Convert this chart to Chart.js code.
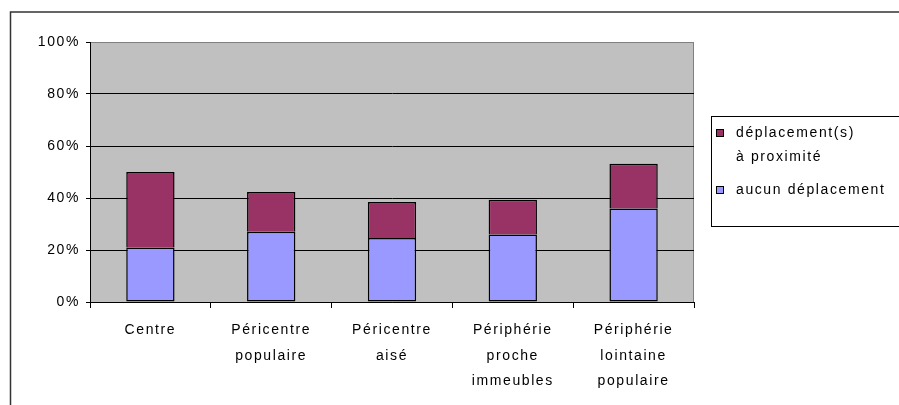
<!DOCTYPE html>
<html>
<head>
<meta charset="utf-8">
<script src="https://cdn.jsdelivr.net/npm/chart.js@4.4.1/dist/chart.umd.min.js"></script>
<style>
  html, body { margin: 0; padding: 0; background: #fff; }
  #wrap { width: 899px; height: 405px; position: relative; }
</style>
</head>
<body>
<div id="wrap"><canvas id="c" width="899" height="405"></canvas></div>
<script>
// Zones de résidence (libellés sur plusieurs lignes)
const categories = [
  ['Centre'],
  ['Péricentre', 'populaire'],
  ['Péricentre', 'aisé'],
  ['Périphérie', 'proche', 'immeubles'],
  ['Périphérie', 'lointaine', 'populaire']
];
// Part des personnes (%)
const aucunDeplacement = [21, 27, 24.6, 26, 36];
const deplacementsProximite = [29, 15.3, 13.9, 13.3, 17.2];
// Noms des séries, tels qu'affichés dans la légende
const nomAucun = ['aucun déplacement'];
const nomProximite = ['déplacement(s)', 'à proximité'];
const yTicks = [0, 20, 40, 60, 80, 100];

const FONT = { family: "'Liberation Sans', Arial, sans-serif", size: 14 };
const SPACING = '1.6px';

// Fond gris de la zone de tracé, cadre extérieur et espacement des lettres
const decor = {
  id: 'decor',
  beforeLayout(chart) { chart.ctx.letterSpacing = SPACING; },
  beforeDraw(chart) {
    const ctx = chart.ctx, a = chart.chartArea;
    ctx.letterSpacing = SPACING;
    ctx.save();
    ctx.fillStyle = '#C0C0C0';
    ctx.fillRect(a.left, a.top, a.right - a.left, a.bottom - a.top);
    ctx.strokeStyle = '#808080';
    ctx.lineWidth = 1;
    ctx.beginPath();
    ctx.moveTo(a.left, a.top + 0.5);
    ctx.lineTo(a.right - 0.5, a.top + 0.5);
    ctx.lineTo(a.right - 0.5, a.bottom);
    ctx.stroke();
    // cadre du graphique
    ctx.strokeStyle = '#333';
    ctx.lineWidth = 1.5;
    ctx.beginPath();
    ctx.moveTo(10.5, 410);
    ctx.lineTo(10.5, 12);
    ctx.lineTo(905, 12);
    ctx.stroke();
    ctx.restore();
  },
  afterDraw(chart) {
    const ctx = chart.ctx;
    ctx.save();
    ctx.letterSpacing = SPACING;
    ctx.strokeStyle = '#000';
    ctx.lineWidth = 1;
    ctx.strokeRect(711.5, 116.5, 200, 110);
    ctx.font = `${FONT.size}px ${FONT.family}`;
    ctx.textBaseline = 'middle';
    ctx.textAlign = 'left';
    const items = [
      { ds: chart.data.datasets[1], lines: nomProximite, y: 133 },
      { ds: chart.data.datasets[0], lines: nomAucun, y: 190 }
    ];
    items.forEach(it => {
      ctx.fillStyle = it.ds.backgroundColor;
      ctx.fillRect(717, it.y - 3, 6, 6);
      ctx.strokeStyle = '#000';
      ctx.strokeRect(716.5, it.y - 3.5, 7, 7);
      ctx.fillStyle = '#000';
      it.lines.forEach((l, i) => ctx.fillText(l, 736, it.y + i * 24));
    });
    ctx.restore();
  }
};

new Chart(document.getElementById('c'), {
  type: 'bar',
  data: {
    labels: categories,
    datasets: [
      {
        label: nomAucun.join(' '),
        data: aucunDeplacement,
        backgroundColor: '#9999FF',
        borderColor: '#000',
        borderWidth: 1.5,
        borderSkipped: false
      },
      {
        label: nomProximite.join(' '),
        data: deplacementsProximite,
        backgroundColor: '#993366',
        borderColor: '#000',
        borderWidth: 1.5,
        borderSkipped: 'bottom'
      }
    ]
  },
  options: {
    responsive: false,
    animation: false,
    devicePixelRatio: 1,
    layout: { padding: { left: 0, top: 42, right: 205, bottom: 0 } },
    datasets: { bar: { categoryPercentage: 1, barPercentage: 0.4 } },
    plugins: { legend: { display: false }, tooltip: { enabled: false } },
    scales: {
      x: {
        stacked: true,
        afterFit(s) { s.height = 103; },
        border: { display: true, color: '#000', width: 1 },
        grid: { display: true, offset: true, drawOnChartArea: false, drawTicks: true, tickLength: 6, color: '#000' },
        ticks: { color: '#000', font: { ...FONT, lineHeight: 1.8 }, padding: 10, maxRotation: 0, autoSkip: false }
      },
      y: {
        stacked: true,
        min: 0,
        max: 100,
        afterFit(s) { s.width = 90; },
        afterBuildTicks(s) { s.ticks = yTicks.map(v => ({ value: v })); },
        border: { display: true, color: '#000', width: 1 },
        grid: {
          color: c => (c.tick && c.tick.value === 100 ? '#808080' : '#000'),
          lineWidth: 1,
          tickLength: 4,
          drawTicks: true,
          tickColor: '#000'
        },
        ticks: { color: '#000', font: FONT, padding: 6, callback: v => v + '%' }
      }
    }
  },
  plugins: [decor]
});
</script>
</body>
</html>
